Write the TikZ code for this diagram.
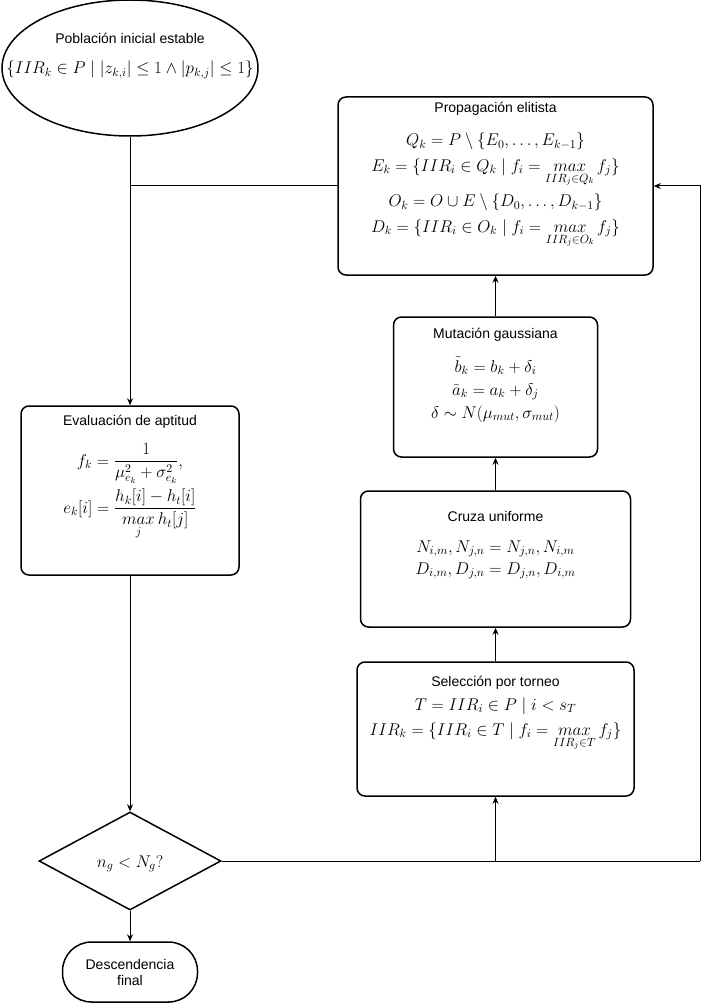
\RequirePackage{fix-cm}
\documentclass[tikz,border=0pt]{standalone}
\usepackage{amsmath}
\usepackage[no-math]{fontspec}
\setmainfont{Liberation Sans}
\usetikzlibrary{shapes.geometric,arrows.meta}
\newcommand{\tsz}{\fontsize{14}{16}\selectfont}
\newcommand{\msz}{\fontsize{17}{20}\selectfont}
\newcommand{\mx}{\mathop{max}\limits}
\begin{document}
\begin{tikzpicture}[x=1pt,y=-1pt,
  boxshape/.style={draw, line width=1.5pt, rounded corners=8pt, inner sep=0pt, rectangle},
  ttl/.style={anchor=base, font=\tsz, inner sep=0pt},
  eq/.style={anchor=base, font=\msz, inner sep=0pt},
  eqblock/.style={anchor=base, align=center, inner sep=0pt,
    font={\msz\baselineskip=#1\lineskiplimit=-200pt\lineskip=0pt}},
  conn/.style={line width=1pt, -{Stealth[length=7pt,width=6pt]}},
  plainline/.style={line width=1pt}]
\useasboundingbox (0,0) rectangle (710,1003);

% start ellipse
\node[draw, line width=1.5pt, ellipse, minimum width=256pt, minimum height=136pt, inner sep=0pt] (pop) at (130,68) {};
\node[ttl] (popt) at (130,44) {Población inicial estable};
\node[eq] (popf) at (130,74) {$\{IIR_k\in P\mid |z_{k,i}|\le 1\wedge |p_{k,j}|\le 1\}$};

% propagation (block anchored at the baseline of its last line)
\node[boxshape, minimum width=315pt, minimum height=178pt] (prop) at (495.5,186) {};
\node[ttl] (propt) at (495.5,113) {Propagación elitista};
\node[eqblock=25pt] (propf) at (495.5,232) {$Q_k=P\setminus\{E_0,\ldots,E_{k-1}\}$\\
  $E_k=\{IIR_i\in Q_k\mid f_i=\mx_{IIR_j\in Q_k} f_j\}$\\[11pt]
  $O_k=O\cup E\setminus\{D_0,\ldots,D_{k-1}\}$\\
  $D_k=\{IIR_i\in O_k\mid f_i=\mx_{IIR_j\in O_k} f_j\}$};

% mutation
\node[boxshape, minimum width=204pt, minimum height=140pt] (mut) at (495.5,387) {};
\node[ttl] (mutt) at (495.5,338) {Mutación gaussiana};
\node[eqblock=23pt] (mutf) at (495.5,418) {$\tilde b_k=b_k+\delta_i$\\
  $\tilde a_k=a_k+\delta_j$\\
  $\delta\sim N(\mu_{mut},\sigma_{mut})$};

% crossover
\node[boxshape, minimum width=270pt, minimum height=136pt] (cruza) at (495.5,559) {};
\node[ttl] (cruzat) at (495.5,521) {Cruza uniforme};
\node[eqblock=22pt] (cruzaf) at (495.5,574) {$N_{i,m},N_{j,n}=N_{j,n},N_{i,m}$\\
  $D_{i,m},D_{j,n}=D_{j,n},D_{i,m}$};

% selection
\node[boxshape, minimum width=277pt, minimum height=134pt] (sel) at (495.5,729) {};
\node[ttl] (selt) at (495.5,686) {Selección por torneo};
\node[eqblock=25pt] (self) at (495.5,735) {$T=IIR_i\in P\mid i<s_T$\\
  $IIR_k=\{IIR_i\in T\mid f_i=\mx_{IIR_j\in T} f_j\}$};

% evaluation
\node[boxshape, minimum width=218pt, minimum height=169pt] (eval) at (130,490.5) {};
\node[ttl] (evalt) at (130,425) {Evaluación de aptitud};
\node[eqblock=47pt] (evalf) at (130,513) {$f_k=\dfrac{1}{\mu_{e_k}^2+\sigma_{e_k}^2},$\\
  $e_k[i]=\dfrac{h_k[i]-h_t[i]}{\mx_j h_t[j]}$};

% decision
\node[draw, line width=1.5pt, diamond, minimum width=182pt, minimum height=98pt, inner sep=0pt] (dec) at (130,861) {};
\node[eq] (dect) at (130,867) {$n_g<N_g?$};

% terminal
\node[draw, line width=1.5pt, rectangle, rounded corners=29pt, minimum width=135pt, minimum height=60pt, inner sep=0pt] (term) at (130,972) {};
\node[font=\tsz, align=center, inner sep=0pt, anchor=center] (termt) at (130,972) {Descendencia\\final};

% connectors
\coordinate (jl) at (130,186);
\coordinate (jr) at (700,861);
\coordinate (js) at (495.5,861);
\draw[conn] (pop.south) -- (eval.north);
\draw[plainline] (prop.west) -- (jl);
\draw[conn] (eval.south) -- (dec.north);
\draw[conn] (dec.south) -- (term.north);
\draw[plainline] (dec.east) -- (jr);
\draw[conn] (jr) |- (prop.east);
\draw[conn] (js) -- (sel.south);
\draw[conn] (sel.north) -- (cruza.south);
\draw[conn] (cruza.north) -- (mut.south);
\draw[conn] (mut.north) -- (prop.south);
\end{tikzpicture}
\end{document}
